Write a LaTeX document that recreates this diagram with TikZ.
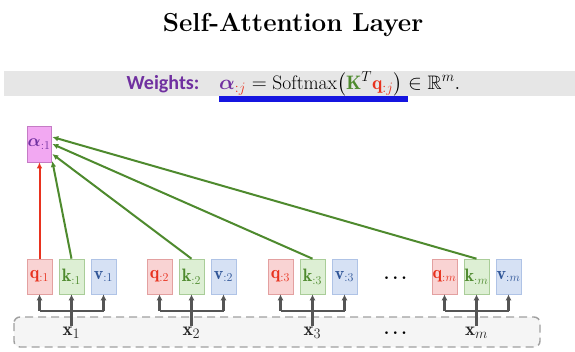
\documentclass[tikz,border=0pt]{standalone}
\usepackage{fontspec}
\usepackage{amsmath,amssymb,bm}
\newfontfamily\calib{Carlito}
\usetikzlibrary{arrows.meta}
\definecolor{qred}{HTML}{E8321E}
\definecolor{qfill}{HTML}{F9D3D3}
\definecolor{qdraw}{HTML}{E3A0A0}
\definecolor{kgreen}{HTML}{4E8A2E}
\definecolor{kfill}{HTML}{DDEFD4}
\definecolor{kdraw}{HTML}{A9CD98}
\definecolor{vblue}{HTML}{2F5597}
\definecolor{vfill}{HTML}{D6E1F4}
\definecolor{vdraw}{HTML}{AFC3E6}
\definecolor{apurple}{HTML}{7030A0}
\definecolor{afill}{HTML}{F2A8F2}
\definecolor{adraw}{HTML}{C57BC5}
\definecolor{arrgray}{HTML}{555555}
\definecolor{bandgray}{HTML}{E6E6E6}
\definecolor{ublue}{HTML}{1515E0}
\definecolor{dashgray}{HTML}{A0A0A0}
\definecolor{infill}{HTML}{F5F5F5}
\begin{document}
\begin{tikzpicture}[x=1pt,y=-1pt,
  box/.style={rectangle,minimum width=25pt,minimum height=35pt,inner sep=0pt,line width=0.6pt,font=\fontsize{18}{20}\selectfont},
  qbox/.style={box,fill=qfill,draw=qdraw,text=qred},
  kbox/.style={box,fill=kfill,draw=kdraw,text=kgreen},
  vbox/.style={box,fill=vfill,draw=vdraw,text=vblue},
  abox/.style={box,minimum width=24pt,minimum height=36pt,fill=afill,draw=adraw,text=apurple,font=\fontsize{18}{20}\selectfont},
  garrow/.style={draw=kgreen,line width=2pt,-{Latex[length=6pt,width=5.5pt]}},
  rarrow/.style={draw=qred,line width=2pt,-{Latex[length=6pt,width=5.5pt]}},
  inarrow/.style={draw=arrgray,line width=2.3pt,-{Latex[length=6pt,width=6pt]}},
  inline/.style={draw=arrgray,line width=2.3pt},
  xlab/.style={font=\fontsize{19}{21}\selectfont,text=black!85,inner sep=1pt},
  dots/.style={font=\fontsize{17}{19}\selectfont}
]
\useasboundingbox (0,0) rectangle (575,352);
\fill[white] (0,0) rectangle (575,352);
% title
\node[font=\fontsize{26}{29}\selectfont\bfseries] (title) at (293,25) {Self-Attention Layer};
% band
\node[fill=bandgray,minimum width=571pt,minimum height=25pt,inner sep=0pt,anchor=north west] (band) at (4,71) {};
\node[font=\calib\bfseries\fontsize{20}{22}\selectfont,text=apurple] (wlab) at (163,84) {Weights:};
\node[font=\fontsize{19.5}{21}\selectfont,anchor=west,inner sep=0pt] (formula) at (219,84)
 {${\color{apurple}\boldsymbol{\alpha}}_{{\color{qred}:j}} = \mathrm{Softmax}\bigl({\color{kgreen}\mathbf{K}}^{T}{\color{qred}\mathbf{q}_{:j}}\bigr) \in \mathbb{R}^{m}.$};
\fill[ublue] (219,96) rectangle (408,102);
% input dashed box
\draw[dashgray,dashed,dash pattern=on 8pt off 5pt,line width=1.4pt,fill=infill,rounded corners=6pt] (14,317) rectangle (540,347);
% alpha
\node[abox] (a1) at (39,144) {$\boldsymbol{\alpha}_{:1}$};
% groups
\foreach \i/\x/\s in {1/27/1,2/147/2,3/268/3,m/432/m}{
  \node[qbox] (q\i) at (\x+12.5,276.5) {$\mathbf{q}_{:\s}$};
  \node[kbox] (k\i) at (\x+44.5,276.5) {$\mathbf{k}_{:\s}$};
  \node[vbox] (v\i) at (\x+76.5,276.5) {$\mathbf{v}_{:\s}$};
  \node[xlab] (x\i) at (\x+44.5,333) {$\mathbf{x}_{\s}$};
  \coordinate (bl\i) at (\x+12.5,311);
  \coordinate (br\i) at (\x+76.5,311);
  \draw[inline] (bl\i) -- (br\i);
  \draw[inarrow] (bl\i) -- (q\i.south);
  \draw[inarrow] (br\i) -- (v\i.south);
  \draw[inarrow] (x\i.north) -- (k\i.south);
}
\node[dots] (d1) at (397,278) {$\boldsymbol{\cdots}$};
\node[dots] (d2) at (397,333) {$\boldsymbol{\cdots}$};
% attention arrows
\draw[rarrow] (q1.north) -- (a1.south -| q1.north);
\draw[garrow] (k1.north) -- ([xshift=1pt,yshift=-17pt]a1.east);
\draw[garrow] (k2.north) -- ([xshift=1pt,yshift=-10pt]a1.east);
\draw[garrow] (k3.north) -- ([xshift=1pt,yshift=0pt]a1.east);
\draw[garrow] (km.north) -- ([xshift=1pt,yshift=7pt]a1.east);
\end{tikzpicture}
\end{document}
